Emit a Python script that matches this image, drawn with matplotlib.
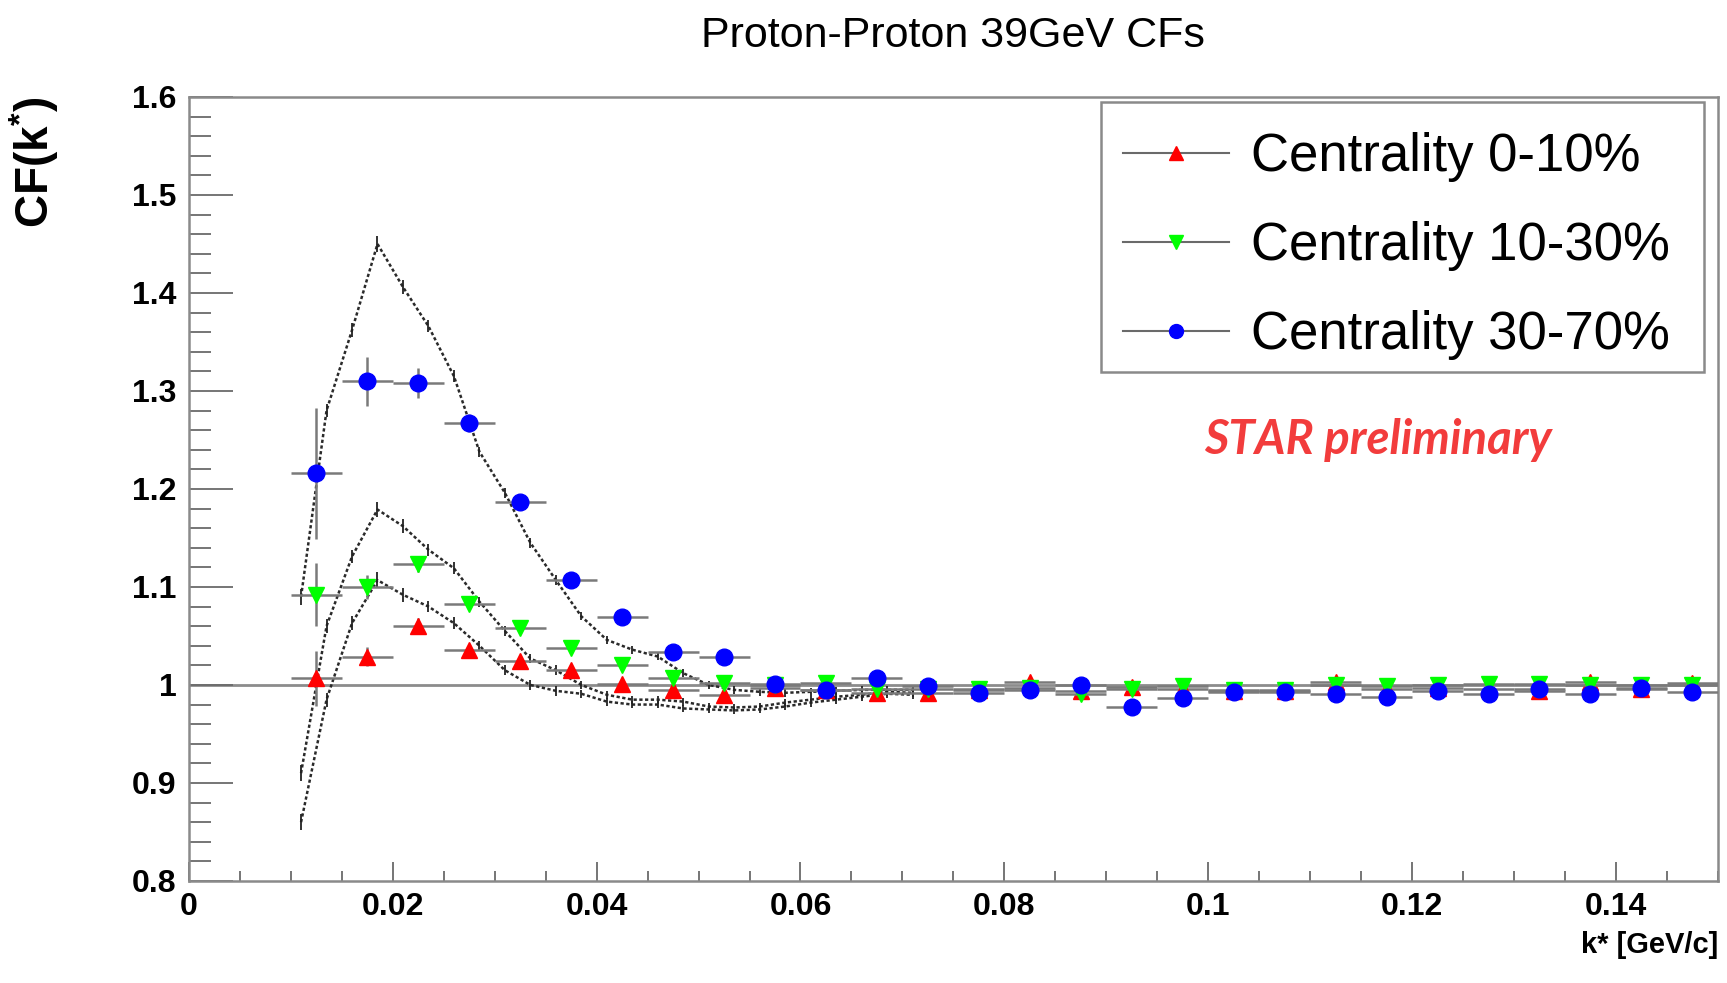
import matplotlib
matplotlib.use("Agg")
import matplotlib.pyplot as plt
from matplotlib.lines import Line2D
from matplotlib.patches import Rectangle
from matplotlib.ticker import MultipleLocator, FuncFormatter

plt.rcParams['font.family'] = ['Liberation Sans', 'DejaVu Sans']
plt.rcParams['mathtext.fontset'] = 'custom'
plt.rcParams['mathtext.rm'] = 'Liberation Sans:bold'
plt.rcParams['mathtext.it'] = 'Liberation Sans:bold'
plt.rcParams['mathtext.bf'] = 'Liberation Sans:bold'

# ---------------- data ----------------
title = "Proton-Proton 39GeV CFs"
labels = ["Centrality 0-10%", "Centrality 10-30%", "Centrality 30-70%"]

k_bins = [0.0125, 0.0175, 0.0225, 0.0275, 0.0325, 0.0375, 0.0425, 0.0475,
          0.0525, 0.0575, 0.0625, 0.0675, 0.0725, 0.0775, 0.0825, 0.0875,
          0.0925, 0.0975, 0.1025, 0.1075, 0.1125, 0.1175, 0.1225, 0.1275,
          0.1325, 0.1375, 0.1425, 0.1475]
k_halfwidth = [0.0025] * 28

cf_0_10 = [1.007, 1.029, 1.060, 1.036, 1.024, 1.015, 1.001, 0.995, 0.990, 0.997,
           0.995, 0.992, 0.992, 0.995, 1.003, 0.994, 0.998, 0.996, 0.994, 0.994,
           1.003, 0.996, 0.997, 0.996, 0.994, 1.003, 0.996, 1.002]
err_0_10 = [0.028, 0.010, 0.008, 0.006, 0.005, 0.005, 0.004, 0.004, 0.004, 0.004,
            0.003, 0.003, 0.003, 0.003, 0.003, 0.003, 0.003, 0.003, 0.003, 0.003,
            0.003, 0.003, 0.003, 0.003, 0.003, 0.003, 0.003, 0.003]

cf_10_30 = [1.092, 1.100, 1.123, 1.083, 1.058, 1.038, 1.020, 1.007, 1.002, 1.000,
            1.002, 0.996, 0.996, 0.996, 0.997, 0.991, 0.996, 0.999, 0.995, 0.995,
            1.000, 0.999, 1.000, 1.001, 1.001, 1.000, 1.000, 1.000]
err_10_30 = [0.032, 0.012, 0.008, 0.006, 0.005, 0.005, 0.004, 0.004, 0.004, 0.004,
             0.003, 0.003, 0.003, 0.003, 0.003, 0.003, 0.003, 0.003, 0.003, 0.003,
             0.003, 0.003, 0.003, 0.003, 0.003, 0.003, 0.003, 0.003]

cf_30_70 = [1.216, 1.310, 1.308, 1.267, 1.187, 1.107, 1.069, 1.034, 1.029, 1.001,
            0.995, 1.007, 0.999, 0.992, 0.995, 1.000, 0.978, 0.987, 0.993, 0.993,
            0.991, 0.988, 0.994, 0.991, 0.996, 0.991, 0.997, 0.993]
err_30_70 = [0.067, 0.025, 0.015, 0.009, 0.007, 0.006, 0.005, 0.005, 0.004, 0.004,
             0.004, 0.004, 0.004, 0.004, 0.004, 0.004, 0.004, 0.004, 0.004, 0.004,
             0.004, 0.004, 0.004, 0.004, 0.004, 0.004, 0.004, 0.004]

# theory curves (fine bins)
k_fit = [0.011, 0.0135, 0.016, 0.0185, 0.021, 0.0235, 0.026, 0.0285, 0.031,
         0.0335, 0.036, 0.0385, 0.041, 0.0435, 0.046, 0.0485, 0.051, 0.0535,
         0.056, 0.0585, 0.061, 0.0635, 0.066, 0.0685, 0.071]
fit_30_70 = [1.090, 1.280, 1.362, 1.450, 1.406, 1.366, 1.315, 1.238, 1.196,
             1.145, 1.107, 1.070, 1.046, 1.036, 1.029, 1.012, 1.000, 0.995,
             0.993, 0.992, 0.993, 0.994, 0.995, 0.995, 0.995]
fit_10_30 = [0.910, 1.060, 1.131, 1.179, 1.162, 1.138, 1.119, 1.085, 1.055,
             1.027, 1.015, 1.000, 0.990, 0.985, 0.985, 0.983, 0.978, 0.977,
             0.978, 0.982, 0.985, 0.988, 0.990, 0.993, 0.992]
fit_0_10 = [0.860, 0.985, 1.063, 1.107, 1.092, 1.080, 1.063, 1.040, 1.015,
            1.000, 0.994, 0.991, 0.983, 0.980, 0.980, 0.976, 0.975, 0.974,
            0.975, 0.978, 0.982, 0.985, 0.988, 0.991, 0.990]
fit_err = [0.008, 0.007, 0.007, 0.008, 0.007, 0.006, 0.006, 0.005, 0.005,
           0.005, 0.005, 0.004, 0.004, 0.004, 0.004, 0.004, 0.004, 0.004,
           0.004, 0.004, 0.004, 0.004, 0.004, 0.004, 0.004]

# ---------------- figure ----------------
fig = plt.figure(figsize=(17.27, 9.83), dpi=100)
ax = fig.add_axes([0.1094, 0.1038, 0.8853, 0.7976])

ax.set_xlim(0, 0.15)
ax.set_ylim(0.8, 1.6)

ax.axhline(1.0, color='#8c8c8c', lw=2.0, zorder=1)

fit_style = dict(fmt='none', ecolor='#222222', elinewidth=1.3, capsize=0, zorder=2)
for yv in (fit_30_70, fit_10_30, fit_0_10):
    ax.plot(k_fit, yv, color='#2a2a2a', lw=1.8, linestyle=(0, (1.3, 1.0)), zorder=2)
    ax.errorbar(k_fit, yv, yerr=fit_err, **fit_style)

series = [
    (cf_0_10, err_0_10, '^', '#ff0000', 11),
    (cf_10_30, err_10_30, 'v', '#00ff00', 11),
    (cf_30_70, err_30_70, 'o', '#0000ff', 12),
]
for z, (yv, ev, mk, col, ms) in enumerate(series):
    ax.errorbar(k_bins, yv, xerr=k_halfwidth, yerr=ev, fmt=mk, ms=ms,
                mfc=col, mec=col, ecolor='#7a7a7a', elinewidth=1.8, capsize=0,
                zorder=3 + z)

# axes styling (ROOT-like)
for s in ax.spines.values():
    s.set_color('#8a8a8a')
    s.set_linewidth(1.8)

ax.xaxis.set_major_locator(MultipleLocator(0.02))
ax.xaxis.set_minor_locator(MultipleLocator(0.005))
ax.yaxis.set_major_locator(MultipleLocator(0.1))
ax.yaxis.set_minor_locator(MultipleLocator(0.02))
ax.xaxis.set_major_formatter(FuncFormatter(
    lambda v, p: ('%.2f' % v).rstrip('0').rstrip('.') if abs(v) > 1e-9 else '0'))
ax.yaxis.set_major_formatter(FuncFormatter(
    lambda v, p: ('%.1f' % v).rstrip('0').rstrip('.')))

ax.tick_params(axis='both', which='both', direction='in', colors='#6a6a6a',
               top=False, right=False, labelcolor='black')
ax.tick_params(axis='y', which='major', length=32, width=1.3, pad=9)
ax.tick_params(axis='y', which='minor', length=16, width=1.3)
ax.tick_params(axis='x', which='major', length=14, width=1.3, pad=8)
ax.tick_params(axis='x', which='minor', length=7, width=1.3)
for lab in ax.get_xticklabels() + ax.get_yticklabels():
    lab.set_fontweight('bold')
    lab.set_fontsize(23)

ax.set_title(title, fontsize=31, pad=36)
ax.set_xlabel('k* [GeV/c]', fontsize=21, fontweight='bold', loc='right')
ax.xaxis.set_label_coords(1.0, -0.064)
ax.set_ylabel('CF(k$^{*}$)', fontsize=33, fontweight='bold', loc='top')
ax.yaxis.set_label_coords(-0.084, 1.0)

# legend: ROOT-style box drawn as a rectangle, entries via matplotlib legend
ax.add_patch(Rectangle((0.5965, 0.6492), 0.3943, 0.3444, transform=ax.transAxes,
                       facecolor='white', edgecolor='#8a8a8a', lw=1.8, zorder=8))
handles = [Line2D([], [], color='#6a6a6a', lw=1.5, marker=mk, ms=10, mfc=col, mec=col)
           for (_, _, mk, col, _) in series]
leg = ax.legend(handles, labels, loc='upper left', bbox_to_anchor=(0.611, 0.955),
                fontsize=38, frameon=False, handlelength=2.0, handletextpad=0.42,
                labelspacing=0.74, borderpad=0, borderaxespad=0)
leg.set_zorder(9)

ax.text(0.778, 0.562, 'STAR preliminary', transform=ax.transAxes, ha='center', va='center',
        color='#f23c3c', fontsize=34, fontweight='bold', fontstyle='italic',
        family=['Lato', 'DejaVu Sans'])

fig.savefig('out.png', dpi=100)
